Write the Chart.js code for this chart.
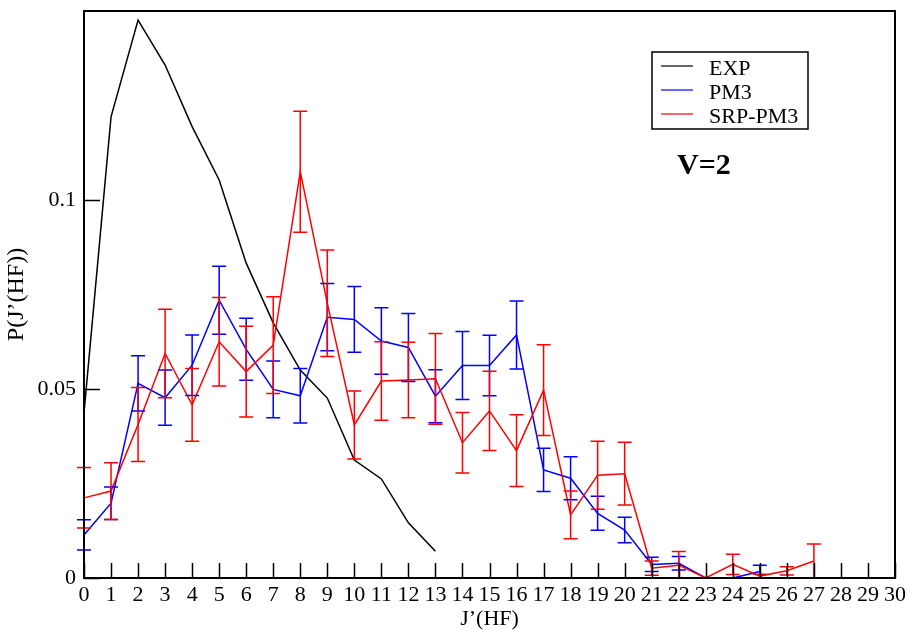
<!DOCTYPE html>
<html lang="en">
<head>
    <meta charset="UTF-8">
    <title>P(J'(HF)) V=2</title>
    <script src="https://cdn.jsdelivr.net/npm/chart.js"></script>
    <style>
        body {
            margin: 0;
            background-color: #fff;
        }
        #wrap {
            width: 908px;
            height: 630px;
        }
    </style>
</head>
<body>
    <div id="wrap"><canvas id="pjChart"></canvas></div>
    <script>
        // du lieu doc tu hinh
        const jExp = [0, 1, 2, 3, 4, 5, 6, 7, 8, 9, 10, 11, 12, 13];
        const expValues = [0.0437, 0.122, 0.1476, 0.1357, 0.1194, 0.1053, 0.0833, 0.0675, 0.055, 0.0476, 0.0312, 0.0262, 0.0146, 0.0071];

        const jPm3 = [0, 1, 2, 3, 4, 5, 6, 7, 8, 9, 10, 11, 12, 13, 14, 15, 16, 17, 18, 19, 20, 21, 22, 23, 24, 25];
        const pm3Values = [0.0114, 0.0198, 0.0515, 0.0477, 0.0563, 0.0735, 0.0605, 0.0499, 0.0482, 0.069, 0.0684, 0.0627, 0.061, 0.0481, 0.0562, 0.0562, 0.0643, 0.0286, 0.0264, 0.0171, 0.0127, 0.0036, 0.0039, 0, 0, 0.0017];
        const pm3Errors = [0.004, 0.0043, 0.0073, 0.0073, 0.008, 0.009, 0.0082, 0.0075, 0.0072, 0.0089, 0.0087, 0.0088, 0.009, 0.007, 0.009, 0.008, 0.009, 0.0057, 0.0057, 0.0045, 0.0034, 0.0019, 0.0018, 0, 0, 0.0017];

        const jSrp = [0, 1, 2, 3, 4, 5, 6, 7, 8, 9, 10, 11, 12, 13, 14, 15, 16, 17, 18, 19, 20, 21, 22, 23, 24, 25, 26, 27];
        const srpValues = [0.0212, 0.023, 0.0406, 0.0594, 0.0458, 0.0625, 0.0546, 0.0616, 0.1075, 0.0727, 0.0405, 0.0521, 0.0524, 0.0527, 0.0358, 0.0442, 0.0337, 0.0497, 0.0167, 0.0272, 0.0276, 0.0026, 0.0034, 0, 0.0036, 0.0005, 0.0019, 0.0045];
        const srpErrors = [0.008, 0.0075, 0.0098, 0.0117, 0.0096, 0.0117, 0.012, 0.0128, 0.016, 0.0141, 0.009, 0.0104, 0.01, 0.012, 0.008, 0.0105, 0.0095, 0.012, 0.0063, 0.009, 0.0083, 0.0019, 0.0036, 0, 0.0027, 0.0005, 0.0011, 0.0045];

        const yTickValues = [0, 0.05, 0.1];
        const seriesNames = ['EXP', 'PM3', 'SRP-PM3'];
        const seriesColors = ['#000000', '#0000ff', '#ff0000'];
        const panelLabel = 'V=2';

        const serif = '"Liberation Serif", "DejaVu Serif", serif';

        function toPoints(xs, ys) {
            return xs.map((x, i) => ({ x: x, y: ys[i] }));
        }

        // ve error bar, tick huong vao trong, khung, chu thich
        const xmgracePlugin = {
            id: 'xmgrace',
            afterDatasetsDraw(chart) {
                const ctx = chart.ctx;
                const xs = chart.scales.x;
                const ys = chart.scales.y;
                ctx.save();
                ctx.lineWidth = 1.5;
                chart.data.datasets.forEach(ds => {
                    if (!ds.errors) return;
                    ctx.strokeStyle = ds.borderColor;
                    ds.data.forEach((p, i) => {
                        const e = ds.errors[i];
                        if (!e) return;
                        const px = xs.getPixelForValue(p.x);
                        const top = ys.getPixelForValue(p.y + e);
                        const bot = ys.getPixelForValue(Math.max(p.y - e, 0));
                        ctx.beginPath();
                        ctx.moveTo(px, top);
                        ctx.lineTo(px, bot);
                        ctx.moveTo(px - 7, top);
                        ctx.lineTo(px + 7, top);
                        ctx.moveTo(px - 7, bot);
                        ctx.lineTo(px + 7, bot);
                        ctx.stroke();
                    });
                });
                ctx.restore();
            },
            afterDraw(chart) {
                const ctx = chart.ctx;
                const a = chart.chartArea;
                const xs = chart.scales.x;
                const ys = chart.scales.y;
                ctx.save();
                ctx.strokeStyle = '#000';
                ctx.lineWidth = 1.5;
                ctx.beginPath();
                xs.ticks.forEach(t => {
                    const px = Math.round(xs.getPixelForValue(t.value)) + 0.5;
                    ctx.moveTo(px, a.bottom);
                    ctx.lineTo(px, a.bottom - 15);
                });
                ys.ticks.forEach(t => {
                    const py = Math.round(ys.getPixelForValue(t.value)) + 0.5;
                    ctx.moveTo(a.left, py);
                    ctx.lineTo(a.left + 16, py);
                });
                ctx.stroke();

                // khung
                ctx.lineWidth = 2;
                ctx.strokeStyle = '#000';
                ctx.strokeRect(a.left, a.top, a.right - a.left, a.bottom - a.top);

                // chu thich
                const lx = a.left + 568;
                const ly = a.top + 41;
                ctx.lineWidth = 1.5;
                ctx.strokeRect(lx, ly, 156, 77);
                ctx.font = '22px ' + serif;
                ctx.textBaseline = 'alphabetic';
                ctx.textAlign = 'left';
                seriesNames.forEach((name, i) => {
                    const cy = ly + 14 + i * 24;
                    ctx.strokeStyle = seriesColors[i];
                    ctx.lineWidth = 1.2;
                    ctx.beginPath();
                    ctx.moveTo(lx + 9, cy);
                    ctx.lineTo(lx + 41, cy);
                    ctx.stroke();
                    ctx.fillStyle = '#000';
                    ctx.fillText(name, lx + 57, cy + 9);
                });

                ctx.font = 'bold 30px ' + serif;
                ctx.fillText(panelLabel, a.left + 593, a.top + 163);
                ctx.restore();
            }
        };

        const ctx = document.getElementById('pjChart').getContext('2d');
        new Chart(ctx, {
            type: 'line',
            data: {
                datasets: [
                    {
                        label: seriesNames[0],
                        data: toPoints(jExp, expValues),
                        borderColor: seriesColors[0],
                        borderWidth: 1.5,
                        pointRadius: 0,
                        fill: false,
                        order: 2
                    },
                    {
                        label: seriesNames[1],
                        data: toPoints(jPm3, pm3Values),
                        errors: pm3Errors,
                        borderColor: seriesColors[1],
                        borderWidth: 1.5,
                        pointRadius: 0,
                        fill: false,
                        order: 1
                    },
                    {
                        label: seriesNames[2],
                        data: toPoints(jSrp, srpValues),
                        errors: srpErrors,
                        borderColor: seriesColors[2],
                        borderWidth: 1.5,
                        pointRadius: 0,
                        fill: false,
                        order: 0
                    }
                ]
            },
            options: {
                responsive: true,
                maintainAspectRatio: false,
                animation: false,
                events: [],
                clip: false,
                layout: { padding: { left: 0, top: 11, right: 13, bottom: 0 } },
                plugins: {
                    legend: { display: false },
                    tooltip: { enabled: false }
                },
                scales: {
                    x: {
                        type: 'linear',
                        min: 0,
                        max: 30,
                        grid: { display: false, drawTicks: false },
                        border: { display: false },
                        ticks: {
                            stepSize: 1,
                            autoSkip: false,
                            maxRotation: 0,
                            color: '#000',
                            padding: 4,
                            font: { family: serif, size: 22 }
                        },
                        title: {
                            display: true,
                            text: 'J’(HF)',
                            color: '#000',
                            font: { family: serif, size: 22, lineHeight: 1 },
                            padding: { top: 0, bottom: 0 }
                        },
                        afterFit(scale) {
                            scale.height = 52;
                            scale.paddingLeft = 0;
                            scale.paddingRight = 0;
                        }
                    },
                    y: {
                        type: 'linear',
                        min: 0,
                        max: 0.15,
                        grid: { display: false, drawTicks: false },
                        border: { display: false },
                        afterBuildTicks(scale) {
                            scale.ticks = yTickValues.map(v => ({ value: v }));
                        },
                        ticks: {
                            color: '#000',
                            padding: 8,
                            font: { family: serif, size: 22 },
                            callback: v => String(+v.toFixed(2))
                        },
                        title: {
                            display: true,
                            text: 'P(J’(HF))',
                            color: '#000',
                            font: { family: serif, size: 24, lineHeight: 1 },
                            padding: { top: 5, bottom: 0 }
                        },
                        afterFit(scale) {
                            scale.width = 84;
                            scale.paddingTop = 0;
                            scale.paddingBottom = 0;
                        }
                    }
                }
            },
            plugins: [xmgracePlugin]
        });
    </script>
</body>
</html>
